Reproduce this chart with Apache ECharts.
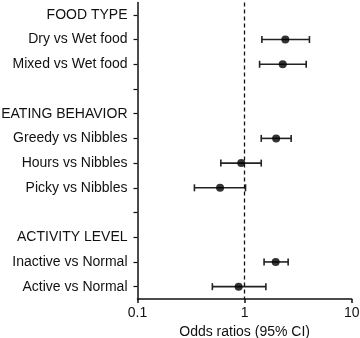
<!DOCTYPE html>
<html>
<head>
<meta charset="utf-8">
<script src="https://cdn.jsdelivr.net/npm/echarts@6/dist/echarts.min.js"></script>
<style>
  html, body { margin: 0; padding: 0; background: #fff; }
  #chart { width: 360px; height: 338px; }
</style>
</head>
<body>
<div id="chart"></div>
<script>
// rows from top to bottom, blank strings are spacer rows
const rowLabels = [
    'FOOD TYPE', 'Dry vs Wet food', 'Mixed vs Wet food', '',
    'EATING BEHAVIOR', 'Greedy vs Nibbles', 'Hours vs Nibbles', 'Picky vs Nibbles', '',
    'ACTIVITY LEVEL', 'Inactive vs Normal', 'Active vs Normal'
];
const oddsRatio = [null, 2.40, 2.27, null, null, 1.97, 0.93, 0.59, null, null, 1.95, 0.88];
const ciLow     = [null, 1.45, 1.38, null, null, 1.43, 0.60, 0.34, null, null, 1.52, 0.50];
const ciHigh    = [null, 4.03, 3.76, null, null, 2.72, 1.43, 1.02, null, null, 2.55, 1.58];
const xTicks = [0.1, 1, 10];

const FONT = 'Liberation Sans, Arial, sans-serif';
const INK = '#111';

const pointData = [];
const barData = [];
rowLabels.forEach((lab, i) => {
    if (oddsRatio[i] == null) return;
    pointData.push([oddsRatio[i], i]);
    barData.push([i, ciLow[i], ciHigh[i]]);
});

const chart = echarts.init(document.getElementById('chart'));

chart.setOption({
    animation: false,
    grid: { left: 137.5, right: 8.3, top: 2.5, bottom: 39, outerBoundsMode: 'none', containLabel: false },
    xAxis: {
        type: 'log',
        logBase: 10,
        min: 0.1,
        max: 10,
        name: 'Odds ratios (95% CI)',
        nameLocation: 'middle',
        nameGap: 22,
        nameTextStyle: { color: INK, fontSize: 14, fontFamily: FONT },
        axisLine: { show: true, lineStyle: { color: INK, width: 1.5 } },
        axisTick: { show: true, length: 4, lineStyle: { color: INK, width: 1.5 } },
        axisLabel: {
            color: INK, fontSize: 14, fontFamily: FONT, margin: 7,
            formatter: v => (xTicks.includes(+v) ? String(+v) : '')
        },
        minorTick: { show: false },
        splitLine: { show: false }
    },
    yAxis: {
        type: 'category',
        inverse: true,
        data: rowLabels,
        axisLine: { show: true, lineStyle: { color: INK, width: 1.5 } },
        axisTick: { show: true, alignWithLabel: true, length: 4, lineStyle: { color: INK, width: 1.2 } },
        axisLabel: { color: INK, fontSize: 14, fontFamily: FONT, margin: 10, interval: 0 },
        splitLine: { show: false }
    },
    series: [
        {
            type: 'custom',
            data: barData,
            encode: { x: [1, 2], y: 0 },
            renderItem(params, api) {
                const row = api.value(0);
                const a = api.coord([api.value(1), row]);
                const b = api.coord([api.value(2), row]);
                const cap = 3.5;
                const style = { stroke: '#222', lineWidth: 1.6 };
                return {
                    type: 'group',
                    children: [
                        { type: 'line', shape: { x1: a[0], y1: a[1], x2: b[0], y2: b[1] }, style },
                        { type: 'line', shape: { x1: a[0], y1: a[1] - cap, x2: a[0], y2: a[1] + cap }, style },
                        { type: 'line', shape: { x1: b[0], y1: b[1] - cap, x2: b[0], y2: b[1] + cap }, style }
                    ]
                };
            },
            z: 2
        },
        {
            type: 'scatter',
            data: pointData,
            symbol: 'circle',
            symbolSize: 8,
            itemStyle: { color: '#000' },
            z: 3,
            markLine: {
                silent: true,
                symbol: 'none',
                label: { show: false },
                lineStyle: { color: INK, type: [4, 3], width: 1.3 },
                data: [{ xAxis: 1 }]
            }
        }
    ]
});
</script>
</body>
</html>
